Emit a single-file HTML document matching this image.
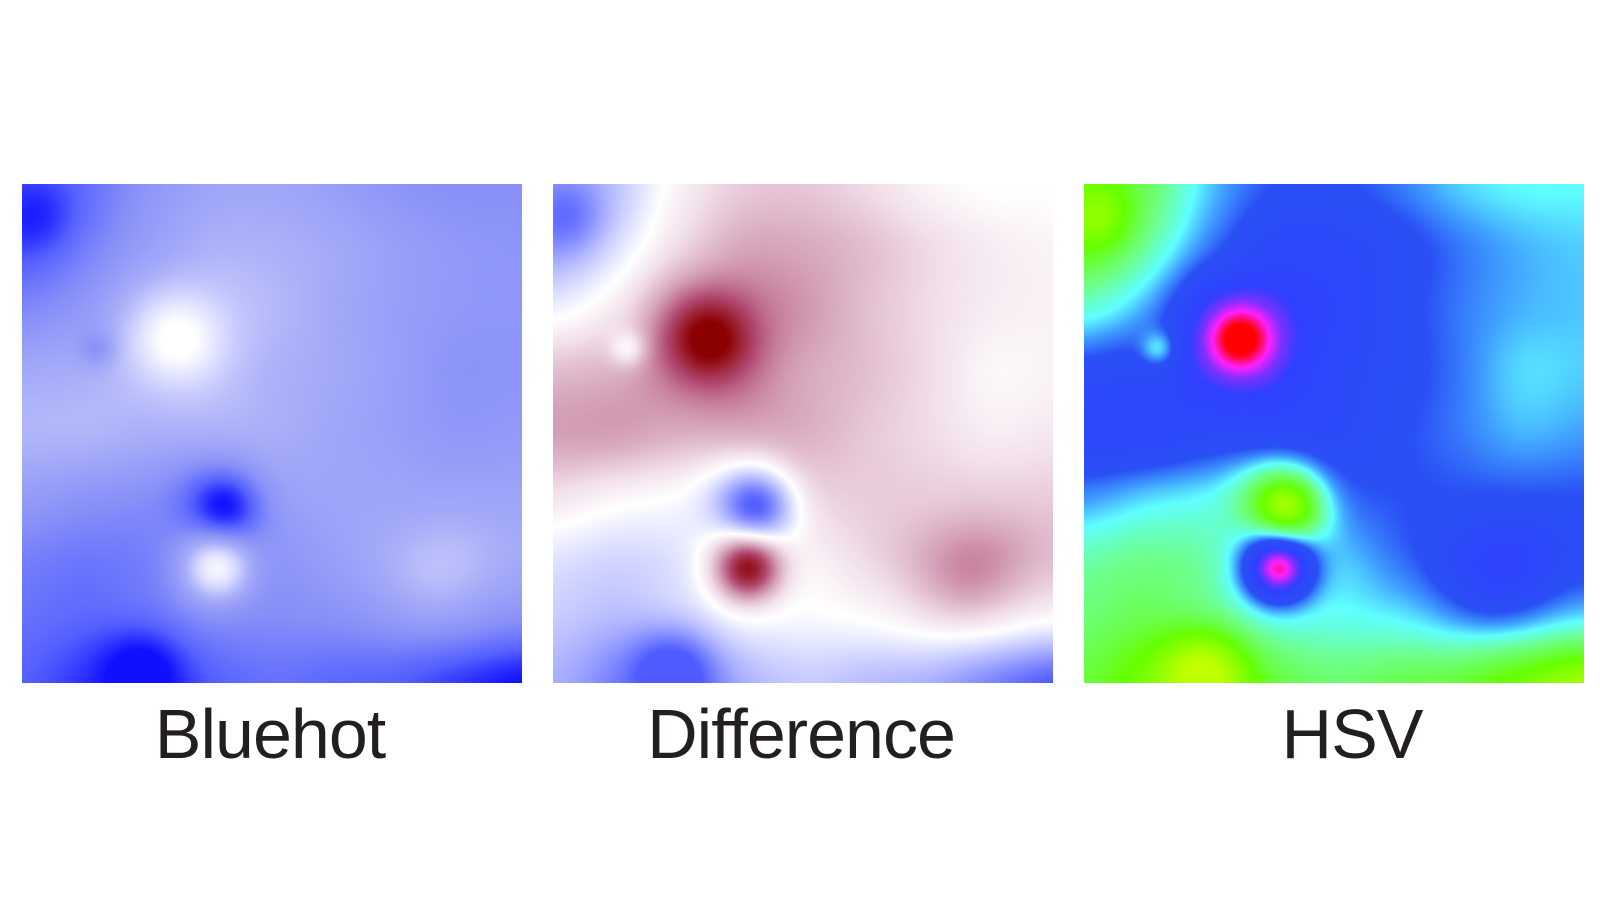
<!DOCTYPE html>
<html><head><meta charset="utf-8"><style>
body{margin:0;width:1600px;height:900px;background:#fff;position:relative;overflow:hidden;font-family:"Liberation Sans",sans-serif}
canvas{position:absolute;top:184px;width:500px;height:499px}
.lbl{position:absolute;top:694px;width:560px;text-align:center;font-size:70px;color:#231f20;letter-spacing:-1px}
</style></head><body>
<canvas id="c0" width="500" height="499" style="left:22px"></canvas>
<canvas id="c1" width="500" height="499" style="left:553px"></canvas>
<canvas id="c2" width="500" height="499" style="left:1084px"></canvas>
<div class="lbl" style="left:-10px">Bluehot</div>
<div class="lbl" style="left:521px">Difference</div>
<div class="lbl" style="left:1072px">HSV</div>
<script>
// coarse field grid: rows y=0..1, cols x=0..1 (step 1/8)
const gridRow0=[-0.3,-0.2,0.05,0.2,0.22,0.15,0.05,0.0,0.0];
const gridRow1=[-0.3,-0.1,0.15,0.32,0.32,0.25,0.15,0.08,0.05];
const gridRow2=[-0.05,0.1,0.38,0.45,0.38,0.25,0.15,0.08,0.06];
const gridRow3=[0.25,0.3,0.42,0.45,0.33,0.25,0.15,0.04,0.05];
const gridRow4=[0.35,0.35,0.3,0.3,0.3,0.22,0.15,0.08,0.1];
const gridRow5=[0.12,0.05,0.0,-0.1,0.15,0.2,0.2,0.2,0.2];
const gridRow6=[-0.1,-0.15,-0.1,0.1,0.05,0.15,0.25,0.32,0.25];
const gridRow7=[-0.2,-0.25,-0.15,-0.05,-0.03,0.0,0.05,0.05,0.0];
const gridRow8=[-0.3,-0.45,-0.5,-0.3,-0.2,-0.25,-0.3,-0.45,-0.6];
// local features
const blobX=[0.03,0.31,0.15,0.41,0.39,0.24,0.82];
const blobY=[0.06,0.31,0.33,0.65,0.77,0.96,0.8];
const blobAmp=[-0.25,0.52,-0.25,-0.55,0.75,-0.3,0.15];
const blobR=[0.055,0.06,0.025,0.05,0.045,0.06,0.07];

const grid=[gridRow0,gridRow1,gridRow2,gridRow3,gridRow4,gridRow5,gridRow6,gridRow7,gridRow8];
const N=grid.length;
function g(i,j){i=Math.max(0,Math.min(N-1,i));j=Math.max(0,Math.min(N-1,j));return grid[i][j];}
function cr(p0,p1,p2,p3,t){return 0.5*((2*p1)+(-p0+p2)*t+(2*p0-5*p1+4*p2-p3)*t*t+(-p0+3*p1-3*p2+p3)*t*t*t);}
function field(u,v){
  const gx=u*(N-1),gy=v*(N-1);const j=Math.floor(gx),i=Math.floor(gy);const tx=gx-j,ty=gy-i;
  const rows=[];for(let k=-1;k<=2;k++)rows.push(cr(g(i+k,j-1),g(i+k,j),g(i+k,j+1),g(i+k,j+2),tx));
  let f=cr(rows[0],rows[1],rows[2],rows[3],ty);
  for(let b=0;b<blobX.length;b++){const dx=u-blobX[b],dy=v-blobY[b];f+=blobAmp[b]*Math.exp(-(dx*dx+dy*dy)/(2*blobR[b]*blobR[b]));}
  return f;
}
function ramp(stops,f){
  if(f<=stops[0][0])return stops[0][1];
  for(let k=1;k<stops.length;k++){if(f<=stops[k][0]){const a=stops[k-1],b=stops[k];const t=(f-a[0])/(b[0]-a[0]);return [0,1,2].map(c=>a[1][c]+(b[1][c]-a[1][c])*t);}}
  return stops[stops.length-1][1];
}
const maps=[
 [[-0.6,[16,16,255]],[-0.3,[85,96,255]],[0,[136,144,248]],[0.3,[168,174,248]],[0.6,[216,218,255]],[0.9,[255,255,255]]],
 [[-0.6,[80,92,255]],[-0.3,[170,176,255]],[0,[255,255,255]],[0.15,[240,220,232]],[0.35,[212,160,184]],[0.6,[176,72,112]],[0.9,[139,0,0]]],
 [[-0.7,[192,255,0]],[-0.4,[102,255,0]],[-0.15,[110,255,140]],[0,[96,255,255]],[0.1,[64,160,255]],[0.2,[42,80,245]],[0.5,[48,64,255]],[0.65,[128,48,255]],[0.78,[255,32,255]],[0.92,[255,0,0]]]
];
const W=500,H=499;
const F=new Float32Array(W*H);
for(let y=0;y<H;y++)for(let x=0;x<W;x++)F[y*W+x]=field(x/(W-1),y/(H-1));
for(let m=0;m<3;m++){
  const ctx=document.getElementById('c'+m).getContext('2d');
  const img=ctx.createImageData(W,H);
  for(let p=0;p<W*H;p++){const c=ramp(maps[m],F[p]);img.data[p*4]=c[0];img.data[p*4+1]=c[1];img.data[p*4+2]=c[2];img.data[p*4+3]=255;}
  ctx.putImageData(img,0,0);
}
</script>
</body></html>
